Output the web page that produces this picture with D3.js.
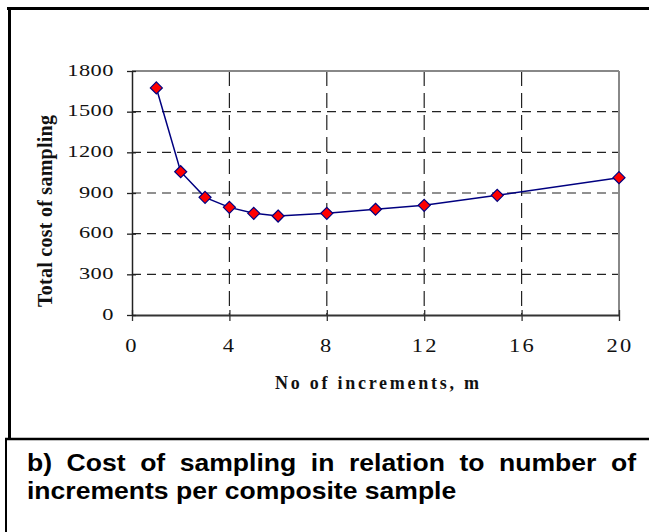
<!DOCTYPE html>
<html><head><meta charset="utf-8">
<script src="https://cdn.jsdelivr.net/npm/d3@7"></script>
<style>html,body{margin:0;padding:0;background:#fff;}svg{display:block;}</style>
</head><body>
<script>
const increments = [1, 2, 3, 4, 5, 6, 8, 10, 12, 15, 20];
const totalCost = [1675, 1057, 868, 794, 750, 730, 750, 780, 809, 883, 1013];
const xTicks = [0, 4, 8, 12, 16, 20];
const yTicks = [0, 300, 600, 900, 1200, 1500, 1800];
const xTitle = "No of increments, m";
const yTitle = "Total cost of sampling";
const captionLine1 = "b) Cost of sampling in relation to number of";
const captionLine2 = "increments per composite sample";

const W = 649, H = 532;
const serif = "'Liberation Serif', 'Times New Roman', serif";
const sans = "'Liberation Sans', Arial, Helvetica, sans-serif";
const svg = d3.select("body").append("svg").attr("width", W).attr("height", H);
svg.append("rect").attr("width", W).attr("height", H).attr("fill", "#fff");

const plot = {left: 132, right: 619, top: 71, bottom: 315};
const x = d3.scaleLinear().domain([0, 20]).range([plot.left, plot.right]);
const y = d3.scaleLinear().domain([0, 1800]).range([plot.bottom, plot.top]);

// outer frame
svg.append("line").attr("x1", 7).attr("x2", W).attr("y1", 8.5).attr("y2", 8.5).attr("stroke", "#000").attr("stroke-width", 3);
svg.append("line").attr("x1", 9.5).attr("x2", 9.5).attr("y1", 7).attr("y2", 439).attr("stroke", "#000").attr("stroke-width", 3);
svg.append("line").attr("x1", 5).attr("x2", W).attr("y1", 439).attr("y2", 439).attr("stroke", "#000").attr("stroke-width", 2.5);
svg.append("line").attr("x1", 6).attr("x2", 6).attr("y1", 438).attr("y2", H).attr("stroke", "#000").attr("stroke-width", 2);

// gridlines
svg.append("g").selectAll("line").data(yTicks.filter(d => d > 0 && d < 1800)).join("line")
  .attr("x1", plot.left).attr("x2", plot.right)
  .attr("y1", d => y(d)).attr("y2", d => y(d))
  .attr("stroke", "#222").attr("stroke-width", 1.2).attr("stroke-dasharray", "9,6");
svg.append("g").selectAll("line").data(xTicks.filter(d => d > 0 && d < 20)).join("line")
  .attr("x1", d => x(d)).attr("x2", d => x(d))
  .attr("y1", plot.top).attr("y2", plot.bottom)
  .attr("stroke", "#222").attr("stroke-width", 1.2).attr("stroke-dasharray", "15,7");

// plot border (top & right grey)
svg.append("line").attr("x1", plot.left).attr("x2", plot.right).attr("y1", plot.top).attr("y2", plot.top).attr("stroke", "#888").attr("stroke-width", 2);
svg.append("line").attr("x1", plot.right).attr("x2", plot.right).attr("y1", plot.top).attr("y2", plot.bottom).attr("stroke", "#888").attr("stroke-width", 2);

// axes
const xAxis = d3.axisBottom(x).tickValues(xTicks).tickSizeInner(5).tickSizeOuter(0).tickFormat("");
const gx = svg.append("g").attr("transform", `translate(0,${plot.bottom})`).call(xAxis);
gx.select(".domain").attr("stroke", "#333").attr("stroke-width", 2);
gx.selectAll(".tick line").attr("stroke", "#333").attr("stroke-width", 1.3).attr("y1", -5).attr("y2", 6);

const yAxis = d3.axisLeft(y).tickValues(yTicks).tickSizeInner(5).tickSizeOuter(0).tickFormat("");
const gy = svg.append("g").attr("transform", `translate(${plot.left},0)`).call(yAxis);
gy.select(".domain").attr("stroke", "#222").attr("stroke-width", 1.5);
gy.selectAll(".tick line").attr("stroke", "#222").attr("stroke-width", 1.3).attr("x1", -5).attr("x2", 4);

// tick labels (serif, widened)
svg.append("g").selectAll("text").data(yTicks).join("text")
  .attr("transform", d => `translate(${114},${y(d) + 4.8}) scale(1.28,1)`)
  .attr("text-anchor", "end")
  .attr("font-family", serif)
  .attr("font-size", 17.5).attr("letter-spacing", 0.4)
  .attr("fill", "#111")
  .text(d => d);
svg.append("g").selectAll("text").data(xTicks).join("text")
  .attr("transform", d => `translate(${x(d) + (String(d).length > 1 ? 1 : 0)},${352}) scale(1.25,1)`)
  .attr("text-anchor", "middle")
  .attr("font-family", serif)
  .attr("font-size", 18).attr("letter-spacing", 1.8)
  .attr("fill", "#111")
  .text(d => d);

// axis titles
svg.append("text")
  .attr("x", (plot.left + plot.right) / 2 + 1.5).attr("y", 389)
  .attr("text-anchor", "middle")
  .attr("font-family", serif)
  .attr("font-weight", "bold").attr("font-size", 18)
  .attr("textLength", 204).attr("lengthAdjust", "spacing")
  .attr("fill", "#111")
  .text(xTitle);
svg.append("text")
  .attr("transform", `translate(52,${211}) rotate(-90)`)
  .attr("text-anchor", "middle")
  .attr("font-family", serif)
  .attr("font-weight", "bold").attr("font-size", 20)
  .attr("textLength", 192).attr("lengthAdjust", "spacing")
  .attr("fill", "#111")
  .text(yTitle);

// data line and markers
const pts = increments.map((m, i) => [m, totalCost[i]]);
svg.append("path").datum(pts)
  .attr("d", d3.line().x(d => x(d[0])).y(d => y(d[1])))
  .attr("fill", "none").attr("stroke", "#000080").attr("stroke-width", 1.5);
const r = 6;
svg.append("g").selectAll("path").data(pts).join("path")
  .attr("transform", d => `translate(${x(d[0])},${y(d[1])})`)
  .attr("d", `M0,${-r}L${r},0L0,${r}L${-r},0Z`)
  .attr("fill", "#ff0000").attr("stroke", "#000080").attr("stroke-width", 1.2);

// caption
const capScale = 1.13, capSize = 23.5;
const capLeft = 27, capRight = 636;
const words = captionLine1.split(" ");
const tmp = svg.append("g");
const widths = words.map(w => {
  const t = tmp.append("text").attr("font-family", sans).attr("font-weight", "bold").attr("font-size", capSize).text(w);
  const wd = t.node().getComputedTextLength() * capScale;
  t.remove();
  return wd;
});
tmp.remove();
const total = d3.sum(widths);
const gap = (capRight - capLeft - total) / (words.length - 1);
let cx = capLeft;
const cap1 = svg.append("g");
words.forEach((w, i) => {
  cap1.append("text")
    .attr("transform", `translate(${cx},471) scale(${capScale},1)`)
    .attr("font-family", sans).attr("font-weight", "bold").attr("font-size", capSize)
    .attr("fill", "#000").text(w);
  cx += widths[i] + gap;
});
svg.append("text")
  .attr("transform", `translate(${capLeft},499) scale(${capScale},1)`)
  .attr("font-family", sans).attr("font-weight", "bold").attr("font-size", capSize)
  .attr("fill", "#000").text(captionLine2);
</script>
</body></html>
